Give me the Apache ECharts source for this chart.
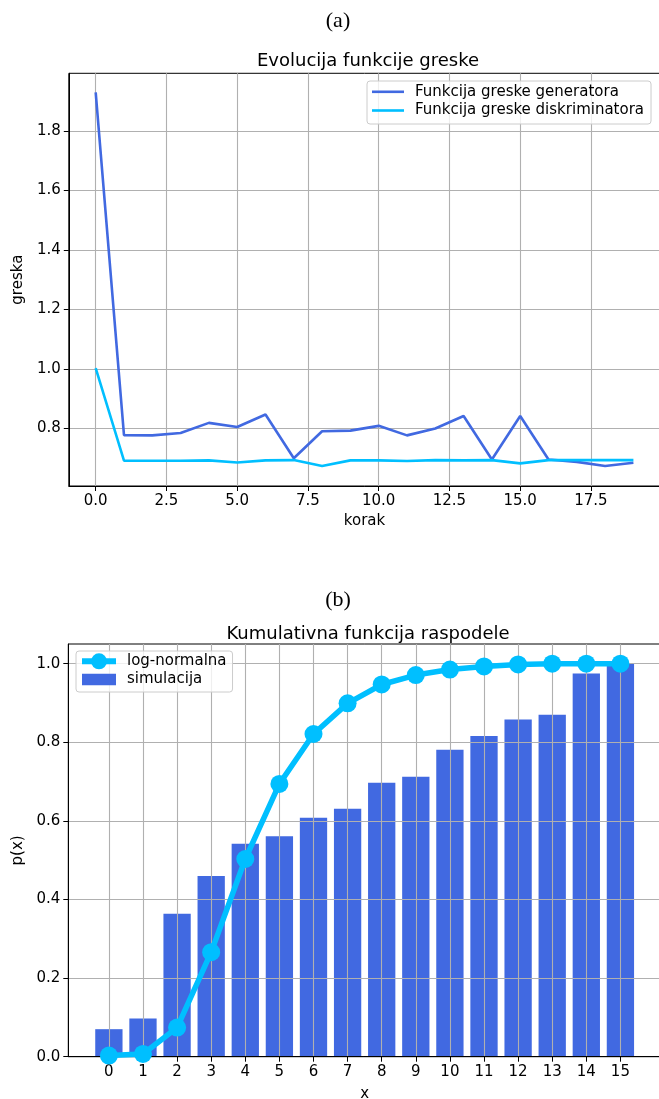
<!DOCTYPE html>
<html>
<head>
<meta charset="utf-8">
<script src="https://cdn.jsdelivr.net/npm/echarts@6/dist/echarts.min.js"></script>
<style>
html,body{margin:0;padding:0;background:#fff;}
#chart{width:659px;height:1099px;}
</style>
</head>
<body>
<div id="chart"></div>
<script>
// ---- Chart (a): loss evolution ----
const steps = [0,1,2,3,4,5,6,7,8,9,10,11,12,13,14,15,16,17,18,19];
const genLoss = [1.929,0.778,0.777,0.785,0.819,0.805,0.847,0.700,0.791,0.793,0.809,0.777,0.800,0.842,0.696,0.842,0.696,0.688,0.674,0.685];
const discLoss = [1.003,0.692,0.692,0.692,0.693,0.686,0.693,0.694,0.674,0.693,0.693,0.691,0.694,0.693,0.694,0.683,0.694,0.694,0.694,0.694];
const topXTicks = [0,2.5,5,7.5,10,12.5,15,17.5];
const topYTicks = [0.8,1.0,1.2,1.4,1.6,1.8];

// ---- Chart (b): cumulative distribution ----
const cdfX = [0,1,2,3,4,5,6,7,8,9,10,11,12,13,14,15];
const simulacija = [0.070,0.097,0.364,0.460,0.542,0.561,0.608,0.631,0.697,0.712,0.781,0.816,0.858,0.870,0.975,1.000];
const logNormalna = [0.003,0.007,0.074,0.266,0.503,0.694,0.821,0.899,0.947,0.971,0.985,0.993,0.998,1.000,1.000,1.000];
const botXTicks = [0,1,2,3,4,5,6,7,8,9,10,11,12,13,14,15];
const botYTicks = [0,0.2,0.4,0.6,0.8,1.0];

const FONT = 'DejaVu Sans';
const TXT = '#000';

function axisCommon(ticks, fmt) {
  return {
    type: 'value',
    axisLine: {show: true, onZero: false, lineStyle: {color: '#000', width: 1}},
    axisTick: {show: true, customValues: ticks, length: 5, lineStyle: {color: '#000', width: 1}},
    axisLabel: {customValues: ticks, formatter: fmt, color: TXT, fontSize: 15, fontFamily: FONT},
    splitLine: {show: true, lineStyle: {color: '#b0b0b0', width: 1.1}},
    nameLocation: 'middle',
    nameTextStyle: {color: TXT, fontSize: 15, fontFamily: FONT}
  };
}

const chart = echarts.init(document.getElementById('chart'), null, {renderer: 'canvas'});
const option = {
  backgroundColor: '#fff',
  animation: false,
  title: [
    {text: '(a)', left: 333, top: 5, textAlign: 'center', textStyle: {fontFamily: 'Liberation Serif', fontSize: 22, fontWeight: 'normal', color: '#000'}},
    {text: 'Evolucija funkcije greske', left: 363, top: 47, textAlign: 'center', textStyle: {fontFamily: FONT, fontSize: 18, fontWeight: 'normal', color: '#000'}},
    {text: '(b)', left: 333, top: 584, textAlign: 'center', textStyle: {fontFamily: 'Liberation Serif', fontSize: 22, fontWeight: 'normal', color: '#000'}},
    {text: 'Kumulativna funkcija raspodele', left: 363, top: 620, textAlign: 'center', textStyle: {fontFamily: FONT, fontSize: 18, fontWeight: 'normal', color: '#000'}}
  ],
  grid: [
    {left: 68.8, top: 73.3, width: 591.5, height: 412.7, show: true, borderColor: '#000', borderWidth: 1, backgroundColor: 'transparent', containLabel: false, outerBoundsMode: 'none'},
    {left: 68.3, top: 644, width: 592.7, height: 412.7, show: true, borderColor: '#000', borderWidth: 1, backgroundColor: 'transparent', containLabel: false, outerBoundsMode: 'none'}
  ],
  xAxis: [
    Object.assign(axisCommon(topXTicks, v => v.toFixed(1)), {gridIndex: 0, min: -0.95, max: 19.95, name: 'korak', nameGap: 28}),
    Object.assign(axisCommon(botXTicks, v => String(v)), {gridIndex: 1, min: -1.19, max: 16.19, name: 'x', nameGap: 30})
  ],
  yAxis: [
    Object.assign(axisCommon(topYTicks, v => v.toFixed(1)), {gridIndex: 0, min: 0.607, max: 1.993, name: 'greska', nameGap: 42}),
    Object.assign(axisCommon(botYTicks, v => v.toFixed(1)), {gridIndex: 1, min: 0, max: 1.05, name: 'p(x)', nameGap: 42})
  ],
  legend: [
    {
      data: [
        {name: 'Funkcija greske generatora', icon: 'path://M0 0H32V2.6H0Z'},
        {name: 'Funkcija greske diskriminatora', icon: 'path://M0 0H32V2.6H0Z'}
      ],
      orient: 'vertical', left: 367, top: 81,
      itemWidth: 32, itemHeight: 18, itemGap: 3.7,
      padding: [3.3, 7, 6, 5],
      backgroundColor: 'rgba(255,255,255,0.8)', borderColor: '#cccccc', borderWidth: 1, borderRadius: 3,
      textStyle: {color: TXT, fontSize: 15, fontFamily: FONT, padding: [0, 0, 0, 6]}
    },
    {
      data: [
        {name: 'log-normalna', lineStyle: {width: 6, color: '#00BFFF'}},
        {name: 'simulacija', icon: 'path://M0 0H30V10H0Z'}
      ],
      orient: 'vertical', left: 76, top: 651,
      itemWidth: 34, itemHeight: 20, itemGap: 2.7,
      padding: [2.3, 6, 5, 3],
      backgroundColor: 'rgba(255,255,255,0.8)', borderColor: '#cccccc', borderWidth: 1, borderRadius: 3,
      textStyle: {color: TXT, fontSize: 15, fontFamily: FONT, padding: [0, 0, 0, 6]}
    }
  ],
  series: [
    {
      name: 'Funkcija greske generatora', type: 'line', xAxisIndex: 0, yAxisIndex: 0,
      data: steps.map((s, i) => [s, genLoss[i]]),
      symbol: 'none', color: '#4169E1', lineStyle: {width: 2.6, color: '#4169E1'}, z: 3
    },
    {
      name: 'Funkcija greske diskriminatora', type: 'line', xAxisIndex: 0, yAxisIndex: 0,
      data: steps.map((s, i) => [s, discLoss[i]]),
      symbol: 'none', color: '#00BFFF', lineStyle: {width: 2.6, color: '#00BFFF'}, z: 4
    },
    {
      name: 'simulacija', type: 'bar', xAxisIndex: 1, yAxisIndex: 1,
      data: cdfX.map((x, i) => [x, simulacija[i]]),
      barWidth: 27.3, color: '#4169E1', itemStyle: {color: '#4169E1'}, z: -1
    },
    {
      name: 'log-normalna', type: 'line', xAxisIndex: 1, yAxisIndex: 1,
      data: cdfX.map((x, i) => [x, logNormalna[i]]),
      symbol: 'circle', symbolSize: 18, showSymbol: true,
      color: '#00BFFF', itemStyle: {color: '#00BFFF'}, lineStyle: {width: 5.5, color: '#00BFFF'}, z: 3
    }
  ]
};
chart.setOption(option);
</script>
</body>
</html>
